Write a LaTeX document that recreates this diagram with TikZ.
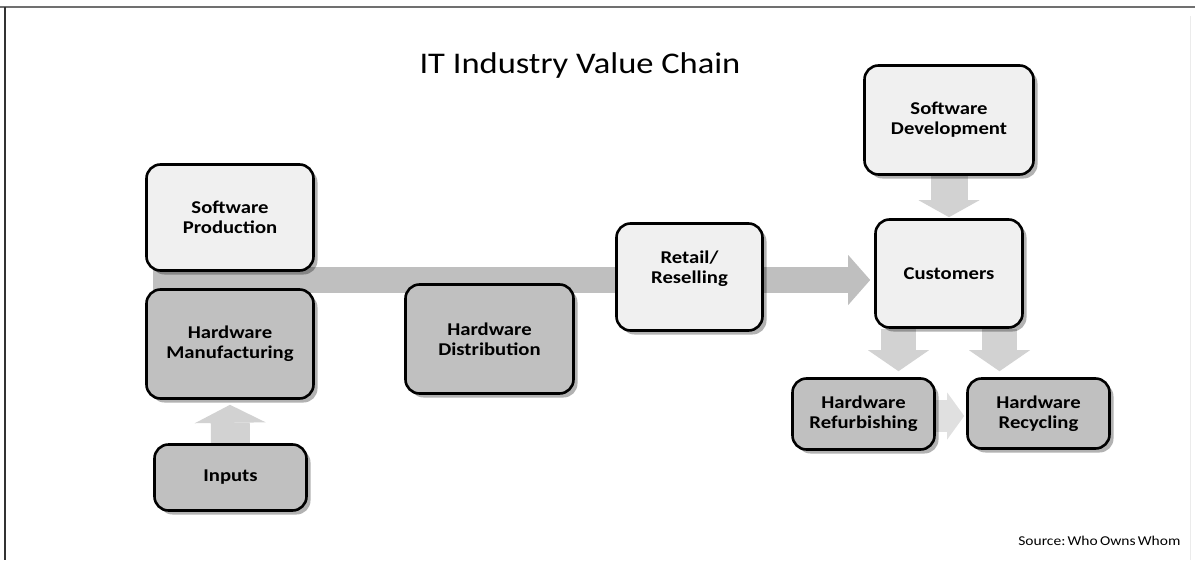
\documentclass[tikz,border=0pt]{standalone}
\usepackage{fontspec}
\newfontfamily\calfont[FakeStretch=1.15]{Carlito}
\usetikzlibrary{shadows,arrows.meta,backgrounds}
\definecolor{lightbox}{HTML}{F0F0F0}
\definecolor{darkbox}{HTML}{C0C0C0}
\definecolor{bigarrow}{HTML}{BFBFBF}
\definecolor{smallarrow}{HTML}{D2D2D2}
\definecolor{framegray}{HTML}{707070}
\begin{document}
\begin{tikzpicture}[x=1pt,y=-1pt,
  box/.style={draw=black, line width=2.6pt, rounded corners=14pt, align=center,
    inner sep=0pt, font=\calfont\fontsize{18}{20}\selectfont\bfseries,
    drop shadow={shadow xshift=4pt, shadow yshift=-4pt, opacity=0.3, fill=black}},
  lightbox/.style={box, fill=lightbox},
  darkbox/.style={box, fill=darkbox},
  blockarrow/.style={draw=smallarrow},
]
\useasboundingbox (0,0) rectangle (1195,560);
% frame
\draw[framegray, line width=2.5pt] (0,7) -- (1195,7);
\draw[black!80, line width=2pt] (5,7) -- (5,560);
\draw[black!8, line width=1pt] (1190,16) -- (1190,560);

% title and source
\node[font=\calfont\fontsize{30}{36}\selectfont] (title) at (580,65) {IT Industry Value Chain};
\node[anchor=east, font=\calfont\fontsize{13.5}{16}\selectfont] (src) at (1184,541) {Source:\,Who\,Owns\,Whom};

% boxes
\node[lightbox, minimum width=167pt, minimum height=106pt] (SP) at (230,217.5) {Software\\Production};
\node[darkbox, minimum width=167pt, minimum height=109pt] (HM) at (230,344) {Hardware\\Manufacturing};
\node[darkbox, minimum width=168pt, minimum height=109pt] (HD) at (489.5,339) {Hardware\\Distribution};
\node[darkbox, minimum width=152pt, minimum height=66pt] (IN) at (230.5,477.5) {Inputs};
\node[lightbox, minimum width=146pt, minimum height=107pt] (RR) at (689.5,277) {Retail/\\Reselling\\\mbox{}};
\node[lightbox, minimum width=169pt, minimum height=109pt] (SD) at (949,120) {Software\\Development};
\node[lightbox, minimum width=147pt, minimum height=108pt] (CU) at (949,273.5) {Customers};
\node[darkbox, minimum width=142pt, minimum height=71pt] (RF) at (863.5,414) {Hardware\\Refurbishing};
\node[darkbox, minimum width=142pt, minimum height=70pt] (RC) at (1038.5,413.5) {Hardware\\Recycling};

% arrows behind the boxes
\begin{scope}[on background layer]
\coordinate (bs) at (153,280);
\draw[draw=bigarrow, line width=26pt, -{Triangle[width=50pt,length=22pt,line width=0pt]}]
  (bs) -- ([xshift=-4pt]bs -| CU.west);
\draw[blockarrow, line width=39pt, -{Triangle[width=71pt,length=18pt,line width=0pt]}]
  (IN.north) -- ([yshift=-5pt]HM.south);
\draw[blockarrow, line width=37pt, -{Triangle[width=61pt,length=17pt,line width=0pt]}]
  (SD.south) -- ([yshift=1pt]CU.north);
\draw[blockarrow, line width=35pt, -{Triangle[width=61pt,length=21pt,line width=0pt]}]
  ([xshift=-50.5pt]CU.south) -- ([xshift=35pt,yshift=6pt]RF.north);
\draw[blockarrow, line width=35pt, -{Triangle[width=61pt,length=21pt,line width=0pt]}]
  ([xshift=50.5pt]CU.south) -- ([xshift=-39pt,yshift=6pt]RC.north);
\draw[draw=black!12, line width=32pt, -{Triangle[width=47pt,length=17pt,line width=0pt]}]
  ([yshift=-2pt]RF.center) -- ([xshift=-2pt,yshift=-2pt]RF.center -| RC.west);
\end{scope}
\end{tikzpicture}
\end{document}
